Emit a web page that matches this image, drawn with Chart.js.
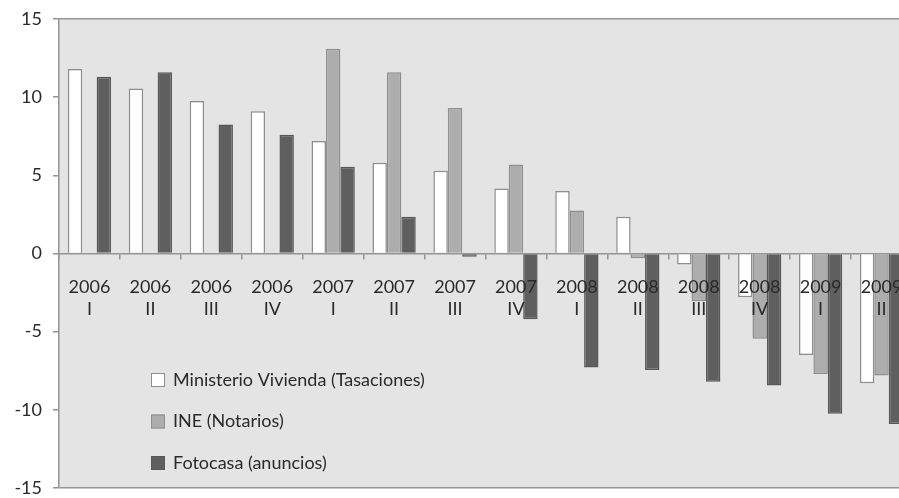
<!DOCTYPE html>
<html><head><meta charset="utf-8">
<script src="https://cdn.jsdelivr.net/npm/chart.js@4.4.1/dist/chart.umd.min.js"></script>
<style>html,body{margin:0;padding:0;overflow:hidden;background:#fff}</style>
</head><body>
<canvas id="c" width="912" height="498"></canvas>
<script>
const years = ['2006','2006','2006','2006','2007','2007','2007','2007','2008','2008','2008','2008','2009','2009'];
const quarters = ['I','II','III','IV','I','II','III','IV','I','II','III','IV','I','II'];
const ministerio = [11.8, 10.55, 9.75, 9.1, 7.2, 5.8, 5.3, 4.15, 4.0, 2.35, -0.7, -2.8, -6.5, -8.3];
const ine = [null, null, null, null, 13.1, 11.6, 9.3, 5.7, 2.75, -0.3, -3.05, -5.45, -7.7, -7.8];
const fotocasa = [11.3, 11.6, 8.25, 7.6, 5.55, 2.35, -0.2, -4.2, -7.3, -7.45, -8.2, -8.45, -10.25, -10.9];
const seriesNames = ['Ministerio Vivienda (Tasaciones)', 'INE (Notarios)', 'Fotocasa (anuncios)'];
const yMin = -15, yMax = 15, yStep = 5;

const FONT = 'Lato, "Open Sans", sans-serif';
const TXT = '#2a2a2a';
const AX = '#949494';

const labels = years.map((y, i) => [y, quarters[i]]);

const bgPlugin = {
  id: 'bg',
  beforeDraw(chart) {
    const {ctx, chartArea: a} = chart;
    ctx.save();
    ctx.fillStyle = '#e4e4e4';
    ctx.fillRect(a.left, a.top, a.right - a.left, a.bottom - a.top);
    ctx.restore();
  }
};

const legendPlugin = {
  id: 'inlegend',
  afterDraw(chart) {
    const {ctx} = chart;
    const x0 = 151, y0 = 380, gap = 41.5, box = 14;
    ctx.save();
    ctx.font = '18px ' + FONT;
    ctx.textBaseline = 'middle';
    chart.data.datasets.forEach((ds, i) => {
      const y = y0 + i * gap;
      ctx.fillStyle = ds.backgroundColor;
      ctx.fillRect(x0, y - box / 2, box, box);
      ctx.strokeStyle = ds.borderColor;
      ctx.lineWidth = 1;
      ctx.strokeRect(x0 + 0.5, y - box / 2 + 0.5, box - 1, box - 1);
      ctx.fillStyle = TXT;
      ctx.fillText(ds.label, x0 + 22, y);
    });
    ctx.restore();
  }
};

new Chart(document.getElementById('c'), {
  type: 'bar',
  data: {
    labels,
    datasets: [
      {label: seriesNames[0], data: ministerio, backgroundColor: '#ffffff', borderColor: '#8e8e8e', borderWidth: 1.5},
      {label: seriesNames[1], data: ine, backgroundColor: '#adadad', borderColor: '#8e8e8e', borderWidth: 1.5},
      {label: seriesNames[2], data: fotocasa, backgroundColor: '#5f5f5f', borderColor: '#585858', borderWidth: 1.5}
    ]
  },
  options: {
    responsive: false,
    animation: false,
    devicePixelRatio: 1,
    categoryPercentage: 0.71,
    barPercentage: 1,
    layout: {padding: {top: 19, bottom: 10, right: 0, left: 0}},
    plugins: {legend: {display: false}, tooltip: {enabled: false}},
    scales: {
      x: {
        position: {y: 0},
        afterFit(s) { s.height = 0; s.paddingLeft = 0; s.paddingRight = 0; },
        grid: {drawOnChartArea: false, drawTicks: true, tickLength: 23, tickBorderDash: [5, 40], tickColor: AX, offset: true, lineWidth: 1.5},
        border: {display: true, color: AX, width: 1.5},
        ticks: {z: 1, color: TXT, font: {family: FONT, size: 18, lineHeight: 1.22}, padding: 0, maxRotation: 0, autoSkip: false}
      },
      y: {
        min: yMin, max: yMax,
        afterFit(s) { s.width = 59; s.paddingTop = 0; s.paddingBottom = 0; },
        grid: {
          color: c => (c.tick && Math.abs(c.tick.value) === 15) ? AX : 'rgba(0,0,0,0)',
          lineWidth: 1.5, tickLength: 6, tickColor: AX, drawTicks: true
        },
        border: {display: true, color: AX, width: 1.5},
        ticks: {stepSize: yStep, color: TXT, font: {family: FONT, size: 18}, padding: 11}
      }
    }
  },
  plugins: [bgPlugin, legendPlugin]
});
</script>
</body></html>
